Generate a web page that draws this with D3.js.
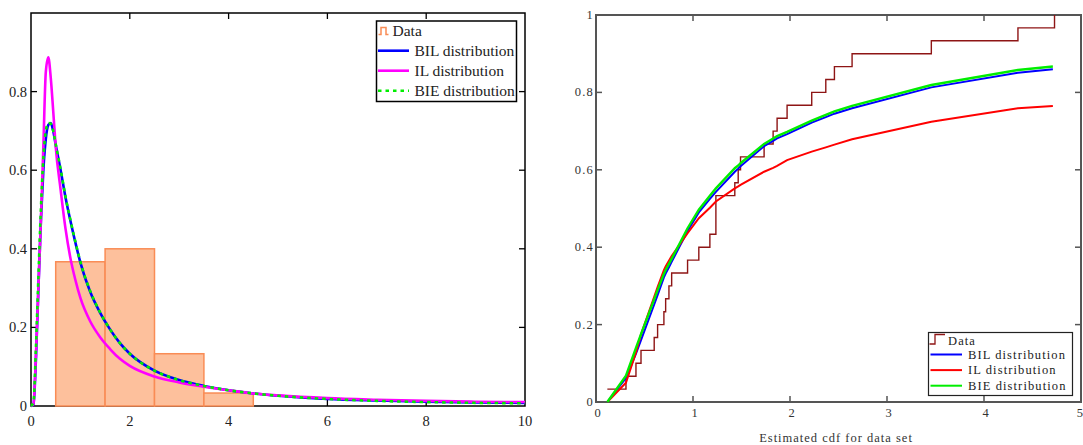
<!DOCTYPE html>
<html>
<head>
<meta charset="utf-8">
<script src="https://cdn.jsdelivr.net/npm/d3@7"></script>
<style>
  html, body { margin: 0; padding: 0; background: #fff; }
  svg { display: block; }
  svg text { font-family: "Liberation Serif", "Tinos", "Times New Roman", "DejaVu Serif", serif; }
</style>
</head>
<body>
<svg id="chart" width="1083" height="445"></svg>
<script>
// ---------- Density panel data ----------
const histLeft   = [0.5, 1.5, 2.5, 3.5];          // bin left edges
const histRight  = [1.5, 2.5, 3.5, 4.5];          // bin right edges
const histHeight = [0.367, 0.4, 0.133, 0.033];    // relative frequency density

const pdfX   = [0, 0.05, 0.1, 0.15, 0.2, 0.25, 0.3, 0.35, 0.4, 0.45, 0.5, 0.6, 0.7, 0.8, 0.9, 1.0,
                1.2, 1.4, 1.6, 1.8, 2.0, 2.5, 3.0, 3.5, 4.0, 4.5, 5, 6, 7, 8, 9, 10];
const pdfIL  = [0, 0.005, 0.13, 0.3, 0.47, 0.66, 0.85, 0.887, 0.835, 0.75, 0.66, 0.55, 0.45, 0.375, 0.32, 0.275,
                0.215, 0.175, 0.145, 0.12, 0.102, 0.075, 0.06, 0.049, 0.04, 0.032, 0.027, 0.02, 0.016, 0.013, 0.011, 0.01];
const pdfBIL = [0, 0.004, 0.12, 0.3, 0.47, 0.6, 0.68, 0.715, 0.72, 0.70, 0.665, 0.6, 0.53, 0.47, 0.415, 0.365,
                0.29, 0.237, 0.195, 0.16, 0.133, 0.09, 0.066, 0.051, 0.04, 0.032, 0.026, 0.018, 0.014, 0.011, 0.009, 0.008];
const pdfBIE = [0, 0.01, 0.15, 0.33, 0.5, 0.63, 0.7, 0.72, 0.718, 0.70, 0.667, 0.602, 0.532, 0.472, 0.417, 0.367,
                0.292, 0.238, 0.195, 0.16, 0.133, 0.09, 0.066, 0.051, 0.04, 0.032, 0.026, 0.018, 0.013, 0.01, 0.008, 0.007];

const leftXTicks = [0, 2, 4, 6, 8, 10];
const leftYTicks = [0, 0.2, 0.4, 0.6, 0.8];

// ---------- CDF panel data ----------
const sample = [0.117, 0.309, 0.412, 0.464, 0.60, 0.635, 0.70, 0.718, 0.752, 0.78,
                0.944, 1.06, 1.174, 1.236, 1.236, 1.236, 1.431, 1.466, 1.49, 1.733,
                1.826, 1.867, 1.97, 2.224, 2.369, 2.458, 2.64, 3.457, 4.35, 4.727];

const cdfX   = [0.117, 0.309, 0.412, 0.464, 0.60, 0.635, 0.70, 0.718, 0.752, 0.78, 0.944, 1.06, 1.174, 1.236,
                1.431, 1.466, 1.49, 1.733, 1.826, 1.867, 1.97, 2.224, 2.369, 2.458, 2.64, 3.457, 4.35, 4.71];
const cdfBIE = [0.0, 0.068, 0.14, 0.175, 0.265, 0.289, 0.331, 0.341, 0.357, 0.37, 0.449, 0.497, 0.533, 0.552,
                0.604, 0.611, 0.617, 0.667, 0.681, 0.687, 0.698, 0.727, 0.742, 0.751, 0.765, 0.819, 0.858, 0.867];
const cdfBIL = [0.0, 0.062, 0.125, 0.16, 0.252, 0.276, 0.322, 0.332, 0.348, 0.362, 0.442, 0.49, 0.525, 0.543,
                0.595, 0.603, 0.609, 0.661, 0.675, 0.681, 0.692, 0.722, 0.736, 0.745, 0.759, 0.813, 0.851, 0.86];
const cdfIL  = [0.0, 0.05, 0.128, 0.175, 0.272, 0.297, 0.341, 0.35, 0.365, 0.377, 0.436, 0.475, 0.502, 0.518,
                0.552, 0.557, 0.561, 0.595, 0.605, 0.61, 0.625, 0.647, 0.658, 0.665, 0.679, 0.724, 0.759, 0.765];

const rightXTicks = [0, 1, 2, 3, 4, 5];
const rightYTicks = [0, 0.2, 0.4, 0.6, 0.8, 1];

// ---------- drawing ----------
const svg = d3.select("#chart");
svg.append("rect").attr("width", 1083).attr("height", 445).attr("fill", "#fff");

// Frame with inward ticks on all four sides
function frame(g, x, y, xt, yt, opts) {
  const [x0, x1] = x.range(), [y0, y1] = y.range();
  const tl = opts.tick;
  const ticks = g.append("g").attr("stroke", opts.color).attr("stroke-width", opts.tickWidth);
  xt.forEach(v => {
    ticks.append("line").attr("x1", x(v)).attr("x2", x(v)).attr("y1", y0).attr("y2", y0 - tl);
    ticks.append("line").attr("x1", x(v)).attr("x2", x(v)).attr("y1", y1).attr("y2", y1 + tl);
  });
  yt.forEach(v => {
    ticks.append("line").attr("x1", x0).attr("x2", x0 + tl).attr("y1", y(v)).attr("y2", y(v));
    ticks.append("line").attr("x1", x1).attr("x2", x1 - tl).attr("y1", y(v)).attr("y2", y(v));
  });
  g.append("rect")
    .attr("x", x0).attr("y", y1).attr("width", x1 - x0).attr("height", y0 - y1)
    .attr("fill", "none").attr("stroke", opts.color).attr("stroke-width", opts.width);
}

// ===== Left panel: densities =====
const xL = d3.scaleLinear().domain([0, 10]).range([31, 525]);
const yL = d3.scaleLinear().domain([0, 1]).range([406, 13]);
const gL = svg.append("g");

frame(gL, xL, yL, leftXTicks.slice(1, -1), leftYTicks.slice(1), {tick: 6, color: "#000", width: 1.5, tickWidth: 1.3});

// x tick labels
gL.append("g").selectAll("text").data(leftXTicks).join("text")
  .attr("x", d => xL(d)).attr("y", 426)
  .attr("text-anchor", "middle")
  .attr("font-size", 14.5).attr("fill", "#222")
  .text(d => d3.format("")(d));
// y tick labels
gL.append("g").selectAll("text").data(leftYTicks).join("text")
  .attr("x", 27).attr("y", d => yL(d) + 5)
  .attr("text-anchor", "end")
  .attr("font-size", 14.5).attr("fill", "#222")
  .text(d => d === 0 ? "0" : d3.format(".1f")(d));

// histogram
gL.append("g").selectAll("rect").data(histHeight).join("rect")
  .attr("x", (d, i) => xL(histLeft[i]))
  .attr("width", (d, i) => xL(histRight[i]) - xL(histLeft[i]))
  .attr("y", d => yL(d))
  .attr("height", d => yL(0) - yL(d))
  .attr("fill", "#fdc09c")
  .attr("stroke", "#f98c55")
  .attr("stroke-width", 1.5);

const pdfLine = arr => d3.line()
  .x((d, i) => xL(pdfX[i]))
  .y(d => yL(d))
  .curve(d3.curveMonotoneX)(arr);

gL.append("path").attr("d", pdfLine(pdfBIL))
  .attr("fill", "none").attr("stroke", "#0000ff").attr("stroke-width", 2.6);
gL.append("path").attr("d", pdfLine(pdfIL))
  .attr("fill", "none").attr("stroke", "#ff00ff").attr("stroke-width", 2.6);
gL.append("path").attr("d", pdfLine(pdfBIE))
  .attr("fill", "none").attr("stroke", "#00ee00").attr("stroke-width", 2.6)
  .attr("stroke-dasharray", "3.5,4");

// legend
const lgL = gL.append("g");
lgL.append("rect").attr("x", 376.5).attr("y", 21).attr("width", 140).attr("height", 80.5)
  .attr("fill", "#fff").attr("stroke", "#000").attr("stroke-width", 1.5);
lgL.append("path").attr("d", "M378.5,34.5 H381 V27.5 H386 V34.5 H388.5")
  .attr("fill", "none").attr("stroke", "#f98c55").attr("stroke-width", 1.5);
const legLeftItems = [
  {label: "BIL distribution", color: "#0000ff", dash: null},
  {label: "IL distribution",  color: "#ff00ff", dash: null},
  {label: "BIE distribution", color: "#00ee00", dash: "3.5,4"}
];
lgL.append("text").attr("x", 392.5).attr("y", 35.5)
  .attr("font-size", 15.5).attr("fill", "#222").text("Data");
legLeftItems.forEach((it, i) => {
  const yy = 50.7 + i * 20;
  lgL.append("line").attr("x1", 378).attr("x2", 409).attr("y1", yy).attr("y2", yy)
    .attr("stroke", it.color).attr("stroke-width", 2.6)
    .attr("stroke-dasharray", it.dash);
  lgL.append("text").attr("x", 414.5).attr("y", yy + 5)
    .attr("font-size", 15.5).attr("fill", "#222").text(it.label);
});

// ===== Right panel: cumulative distributions =====
const xR = d3.scaleLinear().domain([0, 5]).range([596, 1081]);
const yR = d3.scaleLinear().domain([0, 1]).range([402, 15]);
const gR = svg.append("g");

frame(gR, xR, yR, rightXTicks.slice(1, -1), rightYTicks.slice(1, -1), {tick: 6, color: "#555", width: 2, tickWidth: 1.5});

gR.append("g").selectAll("text").data(rightXTicks).join("text")
  .attr("x", d => d === 5 ? 1083 : xR(d) + 2).attr("y", 417)
  .attr("text-anchor", d => d === 5 ? "end" : "middle")
  .attr("font-size", 12.5).attr("letter-spacing", d => d === 5 ? 0 : 1).attr("fill", "#333")
  .text(d => d3.format("")(d));
gR.append("g").selectAll("text").data(rightYTicks).join("text")
  .attr("x", 594).attr("y", d => yR(d) + 4)
  .attr("text-anchor", "end")
  .attr("font-size", 12.5).attr("letter-spacing", 1.2).attr("fill", "#333")
  .text(d => (d === 0 || d === 1) ? String(d) : d3.format(".1f")(d));

gR.append("text").attr("x", 836).attr("y", 442)
  .attr("text-anchor", "middle")
  .attr("font-size", 12.5).attr("letter-spacing", 1).attr("fill", "#333")
  .text("Estimated cdf for data set");

// empirical cdf (step)
const sorted = sample.slice().sort(d3.ascending);
const ecdf = sorted.map((v, i) => [v, (i + 1) / sorted.length]);
gR.append("path")
  .attr("d", d3.line().x(d => xR(d[0])).y(d => yR(d[1])).curve(d3.curveStepAfter)(ecdf))
  .attr("fill", "none").attr("stroke", "#8e1515").attr("stroke-width", 1.4);

const cdfLine = arr => d3.line()
  .x((d, i) => xR(cdfX[i]))
  .y(d => yR(d))(arr);

gR.append("path").attr("d", cdfLine(cdfBIL))
  .attr("fill", "none").attr("stroke", "#0000ff").attr("stroke-width", 2);
gR.append("path").attr("d", cdfLine(cdfIL))
  .attr("fill", "none").attr("stroke", "#ff0000").attr("stroke-width", 2);
gR.append("path").attr("d", cdfLine(cdfBIE))
  .attr("fill", "none").attr("stroke", "#00ee00").attr("stroke-width", 2.4);

// legend
const lgR = gR.append("g");
lgR.append("rect").attr("x", 928.5).attr("y", 332.5).attr("width", 144).attr("height", 63)
  .attr("fill", "#fff").attr("stroke", "#222").attr("stroke-width", 1.2);
lgR.append("path").attr("d", "M929.5,344 H935 V334.5 H945")
  .attr("fill", "none").attr("stroke", "#8e1515").attr("stroke-width", 1.3);
lgR.append("text").attr("x", 948).attr("y", 345)
  .attr("font-size", 12.5).attr("letter-spacing", 1.1).attr("fill", "#222").text("Data");
const legRightItems = [
  {label: "BIL distribution", color: "#0000ff"},
  {label: "IL distribution",  color: "#ff0000"},
  {label: "BIE distribution", color: "#00ee00"}
];
legRightItems.forEach((it, i) => {
  const yy = 354.5 + i * 15.6;
  lgR.append("line").attr("x1", 930.5).attr("x2", 962).attr("y1", yy).attr("y2", yy)
    .attr("stroke", it.color).attr("stroke-width", 2);
  lgR.append("text").attr("x", 968).attr("y", yy + 4)
    .attr("font-size", 12.5).attr("letter-spacing", 1.1).attr("fill", "#222").text(it.label);
});
</script>
</body>
</html>
